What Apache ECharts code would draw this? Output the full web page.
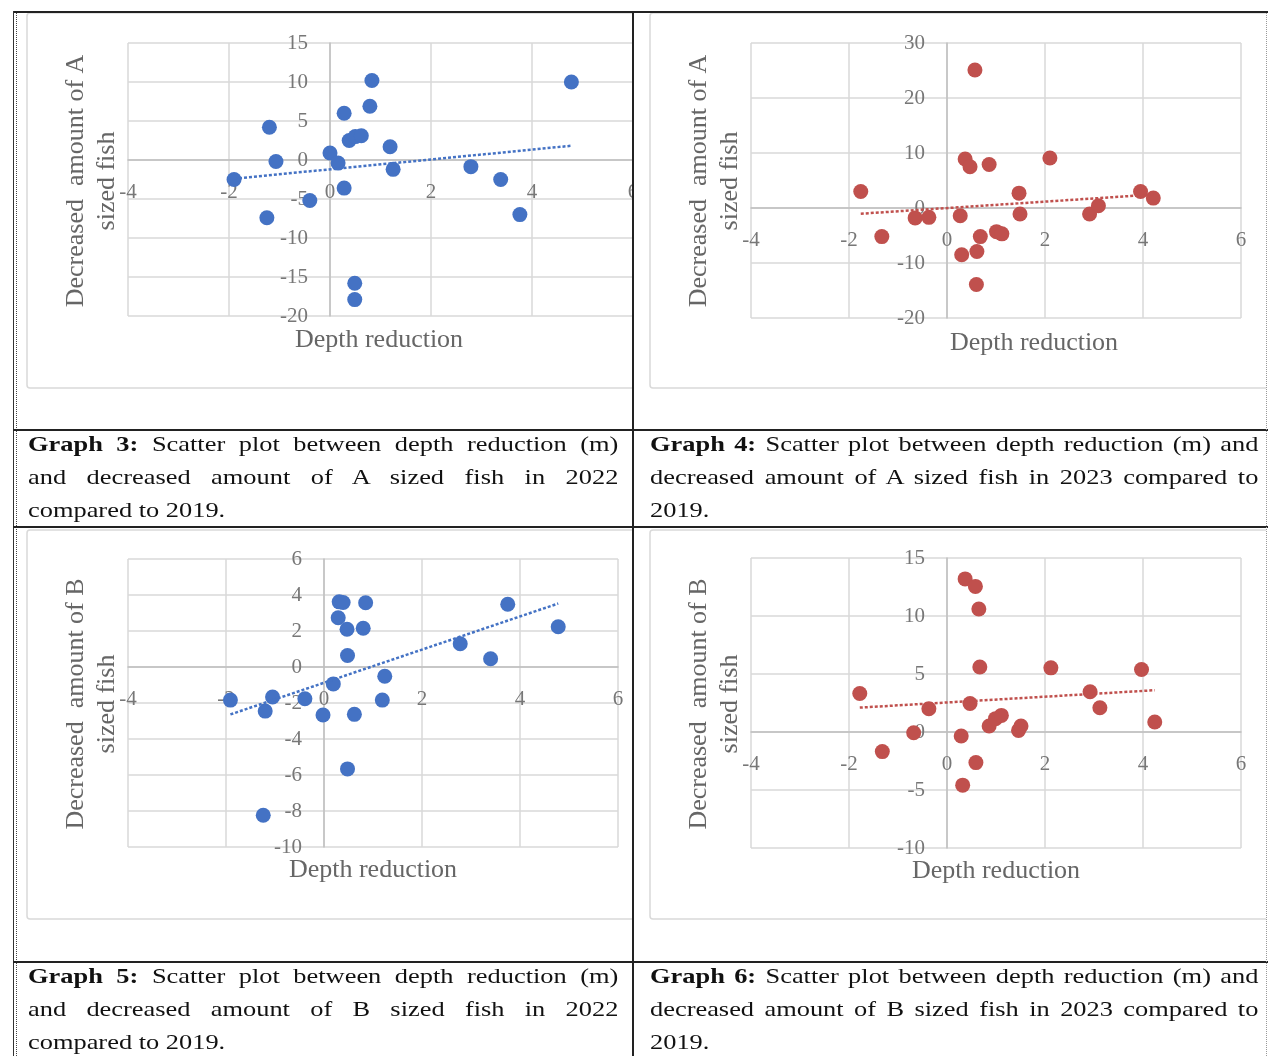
<!DOCTYPE html>
<html>
<head>
<meta charset="utf-8">
<script src="https://cdn.jsdelivr.net/npm/echarts@6/dist/echarts.min.js"></script>
<style>
  html, body { margin:0; padding:0; background:#fff; }
  body { width:1268px; height:1056px; position:relative; overflow:hidden; }
  .chart { position:absolute; }
  .line { position:absolute; background:#222; z-index:10; }
  .dot { position:absolute; border-left:1px dotted #444; z-index:10; }
  .cap { position:absolute; font-family:'Liberation Serif','Times New Roman',serif; font-size:22px; line-height:33px; color:#111; z-index:5; }
  .ln { transform:scaleX(1.2); transform-origin:0 0; }
  .j { text-align:justify; text-align-last:justify; }
</style>
</head>
<body>
<div id="c3" class="chart" style="left:0;top:0;width:632px;height:428px"></div>
<div id="c4" class="chart" style="left:634px;top:0;width:632px;height:428px"></div>
<div id="c5" class="chart" style="left:0;top:528px;width:632px;height:433px"></div>
<div id="c6" class="chart" style="left:634px;top:528px;width:632px;height:433px"></div>

<!-- table borders -->
<div class="line" style="left:13px;top:11px;width:1255px;height:2px"></div>
<div class="line" style="left:13px;top:11px;width:1px;height:1045px;background:#333"></div>
<div class="dot" style="left:16px;top:13px;height:1043px"></div>
<div class="line" style="left:632px;top:11px;width:2px;height:1045px"></div>
<div class="line" style="left:13px;top:429px;width:1255px;height:2px"></div>
<div class="line" style="left:13px;top:526px;width:1255px;height:2px"></div>
<div class="line" style="left:13px;top:961px;width:1255px;height:2px"></div>
<div class="dot" style="left:1266px;top:13px;height:1043px;border-left-color:#999"></div>

<!-- captions -->
<div class="cap" style="left:28px;top:427px">
  <div class="ln j" style="width:492px"><b>Graph 3:</b> Scatter plot between depth reduction (m)</div>
  <div class="ln j" style="width:492px">and decreased amount of A sized fish in 2022</div>
  <div class="ln" style="width:492px">compared to 2019.</div>
</div>
<div class="cap" style="left:650px;top:427px">
  <div class="ln j" style="width:507px"><b>Graph 4:</b> Scatter plot between depth reduction (m) and</div>
  <div class="ln j" style="width:507px">decreased amount of A sized fish in 2023 compared to</div>
  <div class="ln" style="width:507px">2019.</div>
</div>
<div class="cap" style="left:28px;top:959px">
  <div class="ln j" style="width:492px"><b>Graph 5:</b> Scatter plot between depth reduction (m)</div>
  <div class="ln j" style="width:492px">and decreased amount of B sized fish in 2022</div>
  <div class="ln" style="width:492px">compared to 2019.</div>
</div>
<div class="cap" style="left:650px;top:959px">
  <div class="ln j" style="width:507px"><b>Graph 6:</b> Scatter plot between depth reduction (m) and</div>
  <div class="ln j" style="width:507px">decreased amount of B sized fish in 2023 compared to</div>
  <div class="ln" style="width:507px">2019.</div>
</div>

<script>
// ---------- DATA ----------
var xTicksMin = -4, xTicksMax = 6, xTickStep = 2;
var xAxisTitle = 'Depth reduction';
var yTitleA = 'Decreased  amount of A\nsized fish';
var yTitleB = 'Decreased  amount of B\nsized fish';

// Graph 3: A sized fish, 2022 vs 2019
var g3X = [-1.9, -1.2, -1.07, -1.25, -0.4, 0.0, 0.16, 0.28, 0.28, 0.38, 0.5, 0.62, 0.79, 0.83, 1.19, 1.25, 0.49, 0.49, 2.79, 3.38, 3.76, 4.78];
var g3Y = [-2.5, 4.2, -0.2, -7.4, -5.2, 0.9, -0.4, -3.6, 6.0, 2.5, 3.0, 3.1, 6.9, 10.2, 1.7, -1.2, -15.8, -17.9, -0.85, -2.5, -7.0, 10.0];
var g3YRange = [-20, 15, 5];

// Graph 4: A sized fish, 2023 vs 2019
var g4X = [-1.76, -1.33, -0.65, -0.37, 0.27, 0.30, 0.37, 0.47, 0.57, 0.68, 0.61, 0.60, 0.86, 1.01, 1.12, 1.47, 1.49, 2.10, 2.91, 3.09, 3.95, 4.21];
var g4Y = [3.0, -5.2, -1.8, -1.7, -1.4, -8.5, 8.9, 7.5, 25.1, -5.2, -7.9, -13.9, 7.9, -4.3, -4.7, 2.7, -1.1, 9.1, -1.1, 0.4, 3.0, 1.8];
var g4YRange = [-20, 30, 10];

// Graph 5: B sized fish, 2022 vs 2019
var g5X = [-1.91, -1.20, -1.05, -0.39, -1.24, -0.02, 0.19, 0.29, 0.31, 0.39, 0.47, 0.48, 0.48, 0.62, 0.80, 0.85, 1.19, 1.24, 2.78, 3.40, 3.75, 4.78];
var g5Y = [-1.84, -2.45, -1.67, -1.76, -8.24, -2.67, -0.94, 2.74, 3.62, 3.58, 2.10, 0.64, -5.66, -2.63, 2.15, 3.57, -1.84, -0.51, 1.29, 0.46, 3.49, 2.24];
var g5YRange = [-10, 6, 2];

// Graph 6: B sized fish, 2023 vs 2019
var g6X = [-1.78, -1.32, -0.68, -0.37, 0.29, 0.32, 0.37, 0.47, 0.58, 0.59, 0.65, 0.67, 0.86, 0.99, 1.11, 1.46, 1.51, 2.12, 2.92, 3.12, 3.97, 4.24];
var g6Y = [3.32, -1.69, -0.06, 2.0, -0.34, -4.58, 13.2, 2.46, 12.55, -2.64, 10.6, 5.6, 0.52, 1.15, 1.43, 0.14, 0.52, 5.53, 3.47, 2.09, 5.39, 0.86];
var g6YRange = [-10, 15, 5];

// ---------- STYLE ----------
var BLUE = '#4472c4', RED = '#c0504d';
var FONT = "'Liberation Serif','Times New Roman',serif";
var LABEL_COLOR = '#777777', TITLE_COLOR = '#666666';

function pairs(xs, ys) { return xs.map(function (x, i) { return [x, ys[i]]; }); }
function trend(xs, ys) {
  var n = xs.length, mx = 0, my = 0, sxy = 0, sxx = 0;
  for (var i = 0; i < n; i++) { mx += xs[i]; my += ys[i]; }
  mx /= n; my /= n;
  for (var j = 0; j < n; j++) { sxy += (xs[j] - mx) * (ys[j] - my); sxx += (xs[j] - mx) * (xs[j] - mx); }
  var b = sxy / sxx, a = my - b * mx;
  var x0 = Math.min.apply(null, xs), x1 = Math.max.apply(null, xs);
  return [[x0, a + b * x0], [x1, a + b * x1]];
}

function build(cfg) {
  // axes cross at zero (Excel style): shift each axis to the other axis's zero
  var yShift = (0 - xTicksMin) / (xTicksMax - xTicksMin) * cfg.grid[2];
  var xShift = (0 - cfg.yr[0]) / (cfg.yr[1] - cfg.yr[0]) * cfg.grid[3];
  return {
    animation: false,
    grid: { left: cfg.grid[0], top: cfg.grid[1], width: cfg.grid[2], height: cfg.grid[3],
            containLabel: false, outerBoundsMode: 'none' },
    xAxis: {
      type: 'value', min: xTicksMin, max: xTicksMax, interval: xTickStep,
      position: 'bottom', offset: -xShift,
      axisLine: { show: true, onZero: false, lineStyle: { color: '#bfbfbf', width: 1.5 } },
      axisTick: { show: false },
      axisLabel: { color: LABEL_COLOR, fontFamily: FONT, fontSize: 21, margin: 22 },
      splitLine: { show: true, lineStyle: { color: '#d9d9d9', width: 1.5 } }
    },
    yAxis: {
      type: 'value', min: cfg.yr[0], max: cfg.yr[1], interval: cfg.yr[2],
      position: 'left', offset: -yShift,
      axisLine: { show: true, onZero: false, lineStyle: { color: '#bfbfbf', width: 1.5 } },
      axisTick: { show: false },
      axisLabel: { color: LABEL_COLOR, fontFamily: FONT, fontSize: 21, margin: 22 },
      splitLine: { show: true, lineStyle: { color: '#d9d9d9', width: 1.5 } }
    },
    series: [
      { type: 'scatter', data: pairs(cfg.xs, cfg.ys), symbolSize: 15,
        itemStyle: { color: cfg.color, opacity: 1 }, z: 3 },
      { type: 'line', data: trend(cfg.xs, cfg.ys), symbol: 'none', z: 4,
        lineStyle: { color: cfg.color, width: 2.5, type: [3, 2] } }
    ],
    graphic: [
      { type: 'rect', z: -10, shape: { x: cfg.frame[0], y: cfg.frame[1], width: cfg.frame[2], height: cfg.frame[3], r: 3 },
        style: { fill: 'none', stroke: '#d9d9d9', lineWidth: 1.5 } },
      { type: 'text', x: cfg.xt[0], y: cfg.xt[1],
        style: { text: xAxisTitle, font: '26px ' + FONT, fill: TITLE_COLOR,
                 textAlign: 'center', textVerticalAlign: 'middle', align: 'center', verticalAlign: 'middle' } },
      { type: 'text', x: cfg.yt[0], y: cfg.yt[1], rotation: Math.PI / 2,
        style: { text: cfg.ytitle, font: '26px ' + FONT, fill: TITLE_COLOR, lineHeight: 31,
                 textAlign: 'center', textVerticalAlign: 'middle', align: 'center', verticalAlign: 'middle' } }
    ]
  };
}

var cfgs = [
  { id: 'c3', xs: g3X, ys: g3Y, yr: g3YRange, color: BLUE, ytitle: yTitleA,
    grid: [128, 43, 505, 273], frame: [27, 13, 700, 375], xt: [379, 340], yt: [92, 181] },
  { id: 'c4', xs: g4X, ys: g4Y, yr: g4YRange, color: RED, ytitle: yTitleA,
    grid: [117, 43, 490, 275], frame: [16, 13, 700, 375], xt: [400, 343], yt: [81, 181] },
  { id: 'c5', xs: g5X, ys: g5Y, yr: g5YRange, color: BLUE, ytitle: yTitleB,
    grid: [128, 31, 490, 288], frame: [27, 2, 700, 389], xt: [373, 342], yt: [92, 176] },
  { id: 'c6', xs: g6X, ys: g6Y, yr: g6YRange, color: RED, ytitle: yTitleB,
    grid: [117, 30, 490, 290], frame: [16, 2, 700, 389], xt: [362, 343], yt: [81, 176] }
];

cfgs.forEach(function (c) {
  var chart = echarts.init(document.getElementById(c.id), null, { renderer: 'canvas' });
  chart.setOption(build(c));
});
</script>
</body>
</html>
